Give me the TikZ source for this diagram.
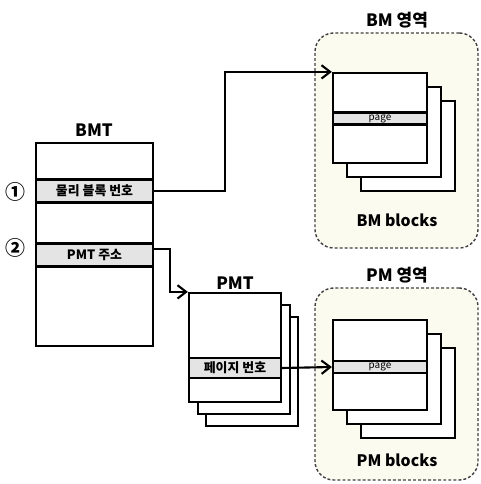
\documentclass[tikz,border=0pt]{standalone}
\usepackage{fontspec}
\setmainfont{Noto Sans CJK KR}
\usetikzlibrary{arrows.meta}

\definecolor{areafill}{HTML}{FCFBEF}
\definecolor{rowfill}{HTML}{E4E4E4}

\begin{document}
\begin{tikzpicture}[x=0.03cm, y=-0.03cm]
  \tikzset{
    tbl/.style={draw=black, line width=1.9pt, fill=white, inner sep=0pt},
    row/.style={draw=black, line width=1.9pt, fill=rowfill, inner sep=0pt, font=\fontsize{11}{11}\selectfont\bfseries},
    pagerow/.style={row, minimum width=2.82cm, minimum height=0.36cm, font=\fontsize{8.5}{8}\selectfont},
    area/.style={draw=black!75, line width=1.2pt, dashed, dash pattern=on 2.5pt off 1.8pt, fill=areafill, rounded corners=16pt, minimum width=4.89cm},
    lbl/.style={font=\fontsize{14.5}{16}\selectfont\bfseries},
    num/.style={font=\fontsize{17}{17}\selectfont\bfseries, inner sep=0pt},
    link/.style={draw=black, line width=1.8pt, -{Straight Barb[length=2.6mm, width=4mm, line width=1.8pt]}}
  }
  \useasboundingbox (0,0) rectangle (480,484);

  % Areas
  \node[area, minimum height=6.45cm] (bmarea) at (396.5,140.5) {};
  \node[lbl] (bmtitle) at (397,20) {BM 영역};
  \node[area, minimum height=5.76cm] (pmarea) at (396.5,384) {};
  \node[lbl] (pmtitle) at (397,275) {PM 영역};

  % BMT
  \node[tbl, minimum width=3.51cm, minimum height=6.09cm] (bmt) at (94.5,244.5) {};
  \node[lbl] (bmttitle) at (94,130) {BMT};
  \node[row, minimum width=3.51cm, minimum height=0.69cm] (row1) at (94.5,191) {물리 블록 번호};
  \node[row, minimum width=3.51cm, minimum height=0.69cm] (row2) at (94.5,255) {PMT 주소};
  \node[num] (n1) at (15,192) {①};
  \node[num] (n2) at (15,248) {②};

  % PMT
  \foreach \dx/\dy in {17/24, 9/12}
    \node[tbl, minimum width=2.76cm, minimum height=3.27cm] at (235+\dx,347.5+\dy) {};
  \node[tbl, minimum width=2.76cm, minimum height=3.27cm] (pmt1) at (235,347.5) {};
  \node[lbl] (pmttitle) at (235,283) {PMT};
  \node[row, minimum width=2.76cm, minimum height=0.6cm] (pmtrow) at (235,368) {페이지 번호};

  % BM blocks
  \foreach \d in {28, 14}
    \node[tbl, minimum width=2.82cm, minimum height=2.7cm] at (380+\d,118+\d) {};
  \node[tbl, minimum width=2.82cm, minimum height=2.7cm] (bm1) at (380,118) {};
  \node[pagerow] (bmrow) at (380,118.5) {page};
  \node[lbl, font=\fontsize{13.5}{15}\selectfont\bfseries] (bmcap) at (397,220) {BM blocks};

  % PM blocks
  \foreach \d in {28, 14}
    \node[tbl, minimum width=2.82cm, minimum height=2.7cm] at (380+\d,365+\d) {};
  \node[tbl, minimum width=2.82cm, minimum height=2.7cm] (pm1) at (380,365) {};
  \node[pagerow] (pmrow) at (380,367) {page};
  \node[lbl, font=\fontsize{13.5}{15}\selectfont\bfseries] (pmcap) at (397,460) {PM blocks};

  % Links
  \draw[link] (row1.east) -| ([xshift=-3.21cm]bm1.north west) -- (bm1.north west);
  \draw[link] ([yshift=0.18cm]row2.east) -| ([xshift=-0.54cm]pmt1.north west) -- (pmt1.north west);
  \draw[link] (pmtrow.east) -- (pmrow.west);

\end{tikzpicture}
\end{document}
